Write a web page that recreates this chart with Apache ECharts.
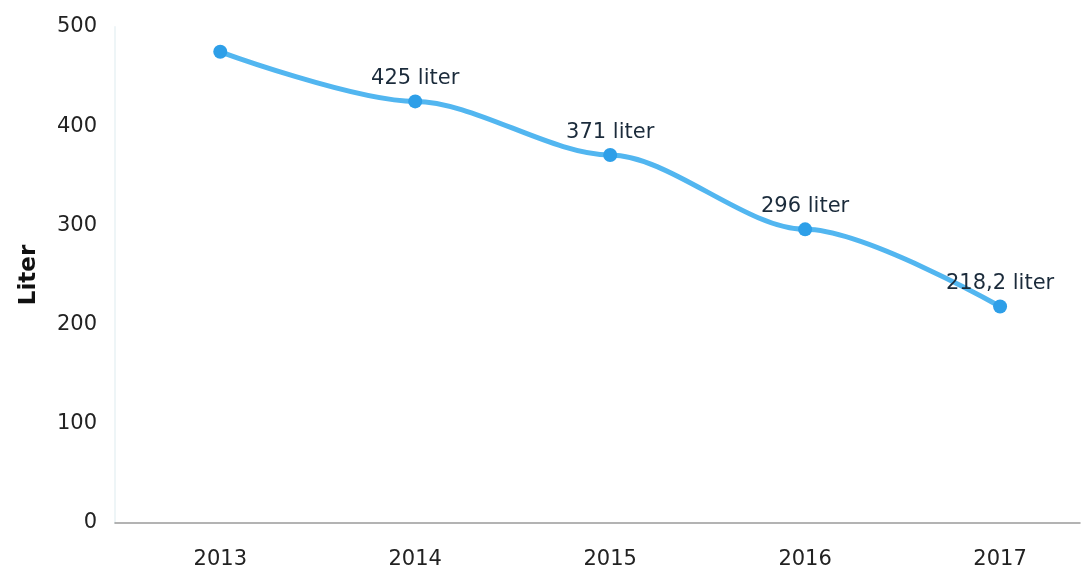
<!DOCTYPE html>
<html>
<head>
<meta charset="utf-8">
<script src="https://cdn.jsdelivr.net/npm/echarts@6/dist/echarts.min.js"></script>
<style>html,body{margin:0;padding:0;background:#fff}#c{width:1081px;height:574px}</style>
</head>
<body>
<div id="c"></div>
<script>
var years = [2013, 2014, 2015, 2016, 2017];
var values = [475, 425, 371, 296, 218.2];
var labels = ['', '425 liter', '371 liter', '296 liter', '218,2 liter'];
var yTicks = [0, 100, 200, 300, 400, 500];

var chart = echarts.init(document.getElementById('c'));
chart.setOption({
  animation: false,
  grid: {left: 115, right: 1, top: 27, bottom: 51, containLabel: false},
  xAxis: {
    type: 'value', min: 2012.46, max: 2017.41,
    splitLine: {show: false},
    axisLine: {show: true, onZero: false, lineStyle: {color: '#9a9a9a', width: 1.5}},
    axisTick: {show: false},
    axisLabel: {customValues: years, formatter: function(v){return String(v);}, color: '#222', fontSize: 21, fontFamily: 'DejaVu Sans', margin: 26}
  },
  yAxis: {
    type: 'value', min: 0, max: 500, interval: 100,
    name: 'Liter', nameLocation: 'middle', nameGap: 74, nameRotate: 90,
    nameTextStyle: {fontWeight: 'bold', fontSize: 23, color: '#111', fontFamily: 'DejaVu Sans'},
    splitLine: {show: false},
    axisLine: {show: true, lineStyle: {color: '#eef5f7', width: 2}},
    axisTick: {show: false},
    axisLabel: {color: '#222', fontSize: 21, fontFamily: 'DejaVu Sans', margin: 18,
      customValues: yTicks}
  },
  series: [{
    type: 'line', smooth: 0.3, smoothMonotone: 'x',
    data: years.map(function(y, i){return [y, values[i]];}),
    symbol: 'circle', symbolSize: 14,
    itemStyle: {color: '#2e9fe8'},
    lineStyle: {color: '#52b6f0', width: 5},
    label: {show: true, position: 'top', distance: 5, fontSize: 21, fontFamily: 'DejaVu Sans', color: '#1b2b3b',
      formatter: function(p){return labels[p.dataIndex];}}
  }]
});
</script>
</body>
</html>
